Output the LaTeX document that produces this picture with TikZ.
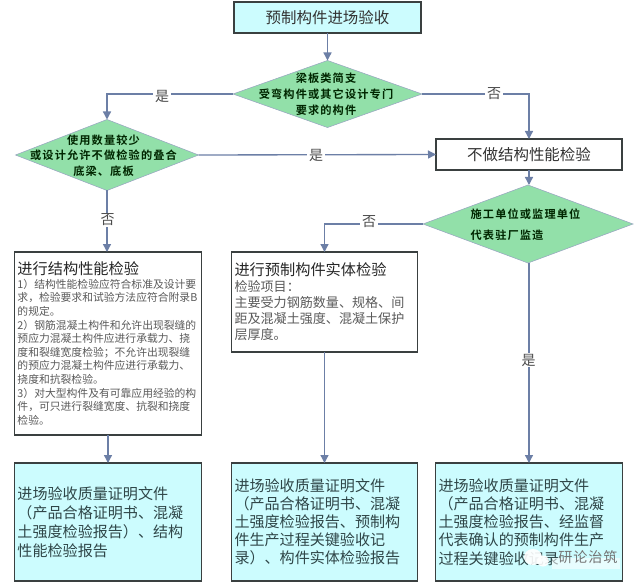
\documentclass[tikz,border=0pt]{standalone}
\usepackage{fontspec}
\setmainfont{Noto Sans CJK SC}
\newfontfamily\wmfont[LetterSpace=6]{Noto Sans CJK SC}
\newfontfamily\dfont[LetterSpace=10,BoldFont={Noto Sans CJK SC Bold}]{Noto Sans CJK SC}
\usetikzlibrary{arrows.meta,shapes.geometric}
\definecolor{cyanfill}{HTML}{CCFCFE}
\definecolor{greenfill}{HTML}{92E0A9}
\definecolor{linkblue}{HTML}{6C7FA6}
\definecolor{edgedark}{HTML}{3A4040}
\definecolor{bodygrey}{HTML}{5A5A5A}
\definecolor{bluetext}{HTML}{2F4648}
\def\px{0.75pt}
\tikzset{
  x=0.75pt,y=-0.75pt,
  boxbase/.style={draw=edgedark,line width=1.1pt,inner xsep=2.4pt,inner ysep=0pt,outer sep=0pt,align=left},
  whitebox/.style={boxbase,fill=white},
  cyanbox/.style={boxbase,fill=cyanfill,text=bluetext,font=\fontsize{11.3}{13.6}\selectfont},
  decision/.style={diamond,draw=linkblue!70!white,line width=0.4pt,fill=greenfill,inner sep=0pt,outer sep=0pt},
  dtext/.style={font=\dfont\bfseries\fontsize{8.4}{11.8}\selectfont,text=black!85!green,align=center,inner sep=0pt},
  link/.style={draw=linkblue,line width=1pt,-{Triangle[length=6pt,width=6pt]}},
  plainlink/.style={draw=linkblue,line width=1pt},
  answer/.style={fill=white,text=black!70,font=\fontsize{10.5}{12}\selectfont,inner xsep=1.5pt,inner ysep=0.5pt},
}
\begin{document}
\begin{tikzpicture}
\useasboundingbox (0,0) rectangle (640,585);
\fill[white] (0,0) rectangle (640,585);

\node[boxbase,fill=cyanfill,align=center,minimum width=187*\px,minimum height=31*\px,font=\fontsize{11.6}{14}\selectfont,text=black!80] (start) at (327.5,17.5) {预制构件进场验收};

\node[decision,minimum width=189*\px,minimum height=67*\px] (d1) at (327.5,94) {};
\node[dtext] (d1t) at (326,94) {梁板类简支\\受弯构件或其它设计专门\\要求的构件};

\node[decision,minimum width=183*\px,minimum height=71*\px] (d2) at (107,155) {};
\node[dtext] (d2t) at (103.5,155.5) {使用数量较少\\或设计允许不做检验的叠合\\底梁、底板};

\node[whitebox,align=center,minimum width=186*\px,minimum height=31*\px,font=\fontsize{11.6}{14}\selectfont,text=black!80] (nocheck) at (529,154.5) {不做结构性能检验};

\node[decision,minimum width=210*\px,minimum height=78*\px] (d3) at (528,224) {};
\node[dtext,align=left,font=\dfont\bfseries\fontsize{8.4}{15.5}\selectfont] (d3t) at (525.5,225) {施工单位或监理单位\\代表驻厂监造};

\node[whitebox,minimum width=186*\px,minimum height=183*\px,text width=181*\px,text=bodygrey,font=\fontsize{8.1}{10.2}\selectfont] (perf) at (108,343.5) {{\fontsize{11.4}{15}\selectfont\color{black!85}进行结构性能检验}\\
1）结构性能检验应符合标准及设计要\\
求，检验要求和试验方法应符合附录B\\
的规定。\\
2）钢筋混凝土构件和允许出现裂缝的\\
预应力混凝土构件应进行承载力、挠\\
度和裂缝宽度检验；不允许出现裂缝\\
的预应力混凝土构件应进行承载力、\\
挠度和抗裂检验。\\
3）对大型构件及有可靠应用经验的构\\
件，可只进行裂缝宽度、抗裂和挠度\\
检验。};

\node[whitebox,minimum width=185*\px,minimum height=100*\px,text width=180*\px,text=bodygrey,font=\fontsize{9.8}{12}\selectfont] (solid) at (324.5,302) {{\fontsize{11.4}{15}\selectfont\color{black!85}进行预制构件实体检验}\\
检验项目：\\
主要受力钢筋数量、规格、间\\
距及混凝土强度、混凝土保护\\
层厚度。};

\node[cyanbox,minimum width=186*\px,minimum height=118*\px,text width=181*\px,font=\fontsize{11.3}{14.3}\selectfont] (docl) at (108,522) {进场验收质量证明文件\\
（产品合格证明书、混凝\\
土强度检验报告）、结构\\
性能检验报告};

\node[cyanbox,minimum width=185*\px,minimum height=118*\px,text width=180*\px] (docm) at (324.5,522) {进场验收质量证明文件\\
（产品合格证明书、混凝\\
土强度检验报告、预制构\\
件生产过程关键验收记\\
录）、构件实体检验报告};

\node[cyanbox,minimum width=186*\px,minimum height=118*\px,text width=181*\px] (docr) at (529,522) {进场验收质量证明文件\\
（产品合格证明书、混凝\\
土强度检验报告、经监督\\
代表确认的预制构件生产\\
过程关键验收记录};

% connectors
\coordinate (c1) at (d2.north |- d1.west);
\coordinate (c2) at (nocheck.north |- d1.east);
\coordinate (c3) at (solid.north |- d3.west);

\draw[link] (start.south -| d1.north) -- (d1.north);
\draw[link] (d1.west) -- (c1) -- (d2.north);
\node[answer] (a1) at (162,96) {是};
\draw[link] (d1.east) -- (c2) -- (nocheck.north);
\node[answer] (a2) at (494,94) {否};
\draw[link] (d2.east) -- (nocheck.west);
\node[answer] (a3) at (316,155) {是};
\draw[link] (d2.south) -- (perf.north -| d2.south);
\node[answer] (a4) at (107.5,220) {否};
\draw[link] (nocheck.south) -- (d3.north -| nocheck.south);
\draw[link] (d3.west) -- (c3) -- (solid.north);
\node[answer] (a5) at (369,222) {否};
\draw[link] (perf.south) -- (docl.north);
\draw[link] (solid.south) -- (docm.north);
\draw[link] (d3.south -| docr.north) -- (docr.north);
\node[answer] (a6) at (528.5,360) {是};

% watermark
\fill[white,opacity=.9] (533,557) ellipse (9 and 8);
\fill[white,opacity=.9] (543,561) ellipse (6 and 5.5);
\fill[white,opacity=.55] (552,558) rectangle (620,569);
\node[inner sep=0pt,text=black!55,font=\wmfont\fontsize{10.6}{12}\selectfont] (wm) at (588,557.5) {研论治筑};
\end{tikzpicture}
\end{document}
